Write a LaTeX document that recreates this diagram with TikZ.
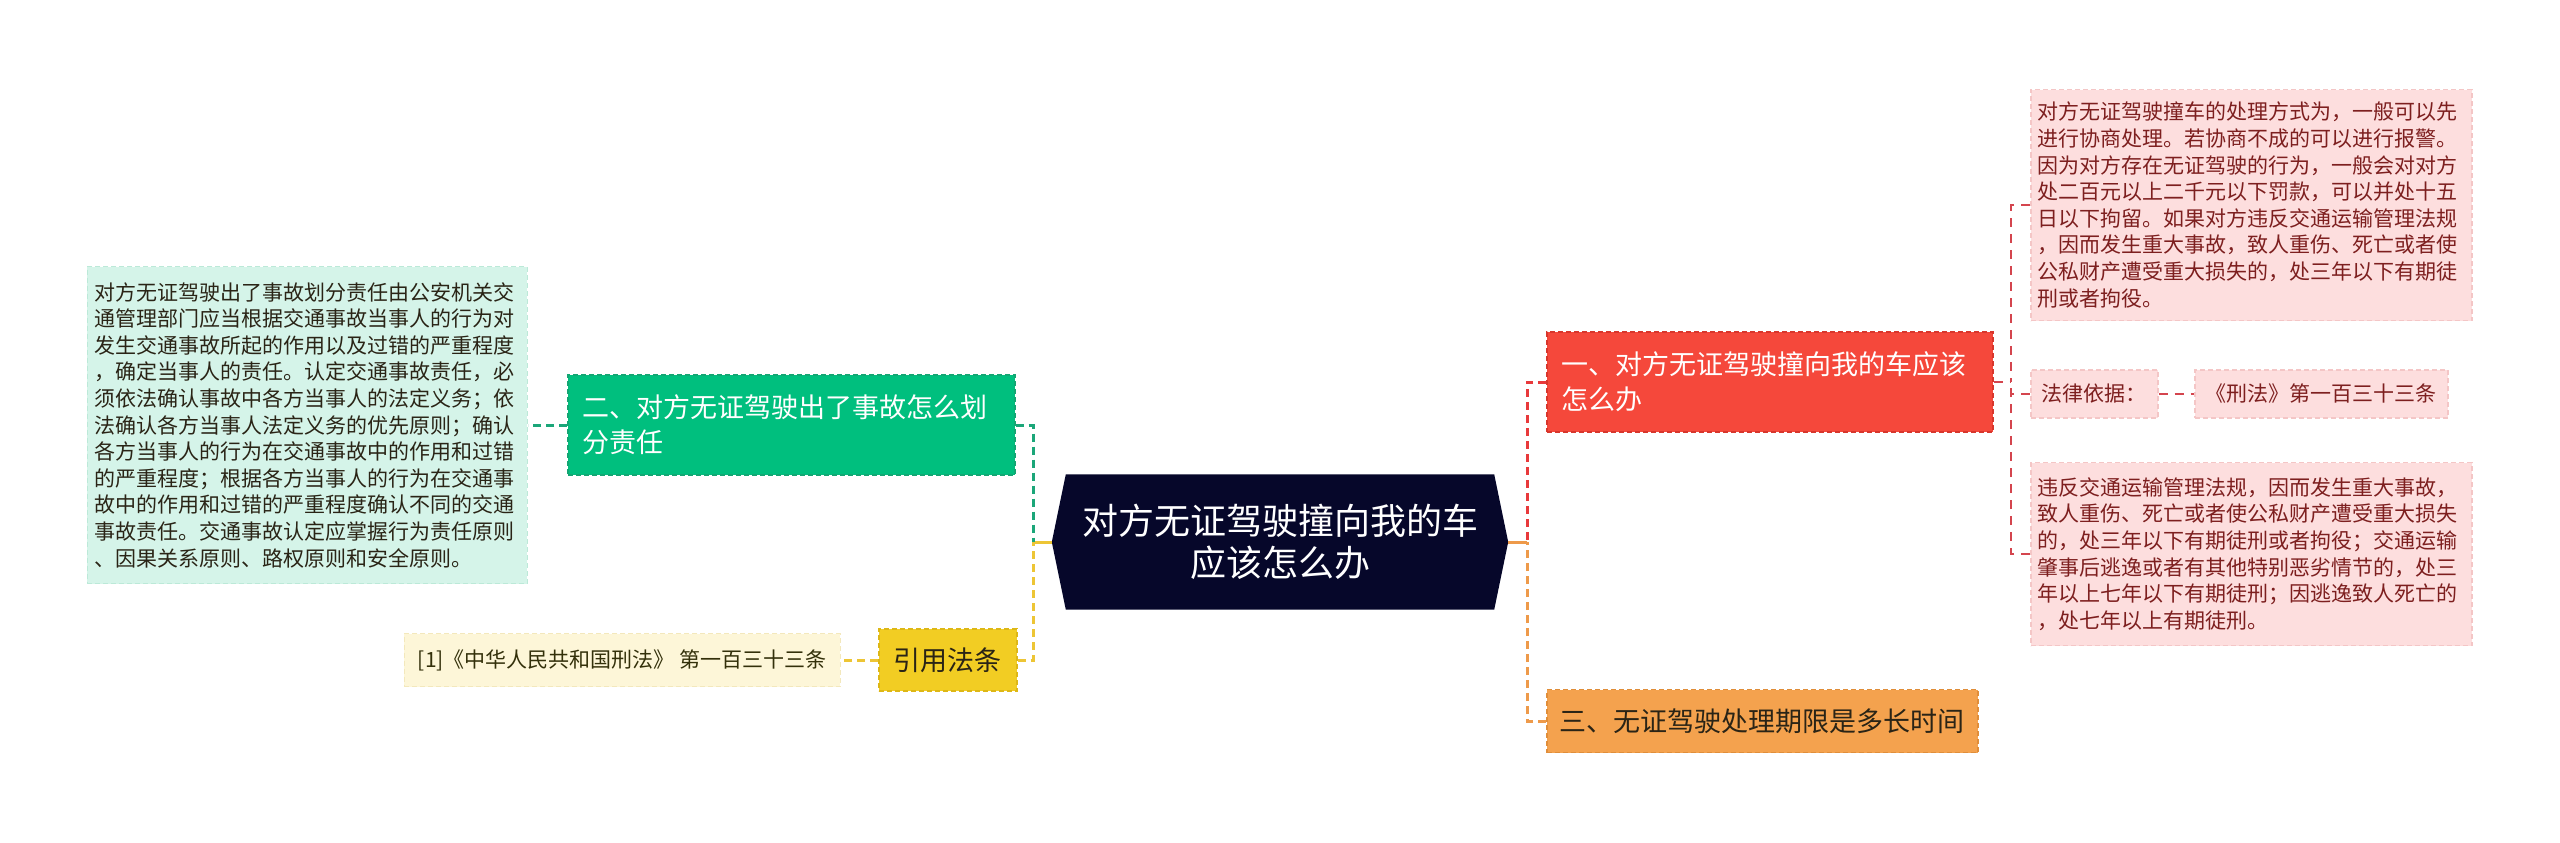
\documentclass[tikz,border=0pt]{standalone}
\usepackage{fontspec}
\usepackage{tikz}
\usetikzlibrary{calc}
\usetikzlibrary{backgrounds}
\newfontfamily\cjk{Noto Sans CJK SC}
\definecolor{rootbg}{HTML}{06072A}
\definecolor{secgreen}{HTML}{00BF7E}
\definecolor{secgreenline}{HTML}{14A673}
\definecolor{notegreen}{HTML}{D5F4E9}
\definecolor{notegreenline}{HTML}{BCE9D8}
\definecolor{secyellow}{HTML}{F2CD23}
\definecolor{secyellowline}{HTML}{DDB716}
\definecolor{noteyellow}{HTML}{FDF6D8}
\definecolor{noteyellowline}{HTML}{F3E8BC}
\definecolor{secred}{HTML}{F5483B}
\definecolor{secredline}{HTML}{D8362C}
\definecolor{secorange}{HTML}{F4A24E}
\definecolor{secorangeline}{HTML}{E08E3A}
\definecolor{notepink}{HTML}{FDDEDE}
\definecolor{notepinkline}{HTML}{F4C6C6}
\definecolor{pinktext}{HTML}{7D1F1F}
\definecolor{darktext}{HTML}{2A2416}
\definecolor{linegreen}{HTML}{1BA679}
\definecolor{lineyellow}{HTML}{EDC535}
\definecolor{linered}{HTML}{E8393B}
\definecolor{lineorange}{HTML}{EE9A4A}
\definecolor{linepink}{HTML}{D4454E}
\tikzset{
  boxline/.style={line width=1.5pt, dash pattern=on 5pt off 3pt},
  rootnode/.style={text=white, font=\cjk\fontsize{36}{42}\selectfont, align=center,
    minimum width=456pt, minimum height=135pt, inner sep=0pt},
  secbox/.style={boxline, font=\cjk\fontsize{27}{35}\selectfont, text width=417pt,
    align=left, inner xsep=15pt, inner ysep=0pt, minimum height=100pt},
  onebox/.style={boxline, font=\cjk\fontsize{27}{33}\selectfont, align=center,
    inner sep=0pt, minimum height=63pt},
  notebox/.style={boxline, font=\cjk\fontsize{21}{26.6}\selectfont, text width=427pt,
    align=left, inner xsep=7pt, inner ysep=0pt},
  smallbox/.style={boxline, font=\cjk\fontsize{21}{26}\selectfont, align=center,
    inner sep=0pt, minimum height=48pt},
  greenline/.style={draw=linegreen, line width=3pt, dash pattern=on 8pt off 5pt},
  yellowline/.style={draw=lineyellow, line width=3pt, dash pattern=on 8pt off 5pt},
  redline/.style={draw=linered, line width=3pt, dash pattern=on 8pt off 5pt},
  orangeline/.style={draw=lineorange, line width=3pt, dash pattern=on 8pt off 5pt},
  pinkline/.style={draw=linepink, line width=2pt, dash pattern=on 9pt off 7pt}
}
\begin{document}
\begin{tikzpicture}[x=1pt,y=-1pt]
  \useasboundingbox (0,0) rectangle (2560,843);
  \node[rootnode] (root) at (1280,542) {对方无证驾驶撞向我的车\\应该怎么办};
  \begin{pgfonlayer}{background}
    \fill[white] (0,0) rectangle (2560,843);
    \fill[rootbg] (root.west) -- ([xshift=14pt]root.north west) -- ([xshift=-14pt]root.north east)
      -- (root.east) -- ([xshift=-14pt]root.south east) -- ([xshift=14pt]root.south west) -- cycle;
  \end{pgfonlayer}
  \node[secbox, fill=secgreen, draw=secgreenline, text=white, anchor=west] (sec2) at (567,425) {二、对方无证驾驶出了事故怎么划\\分责任};
  \node[notebox, fill=notegreen, draw=notegreenline, text=darktext, minimum height=317pt, text width=426pt, anchor=east] (sec2note) at (528,425) {对方无证驾驶出了事故划分责任由公安机关交\\通管理部门应当根据交通事故当事人的行为对\\发生交通事故所起的作用以及过错的严重程度\\，确定当事人的责任。认定交通事故责任，必\\须依法确认事故中各方当事人的法定义务；依\\法确认各方当事人法定义务的优先原则；确认\\各方当事人的行为在交通事故中的作用和过错\\的严重程度；根据各方当事人的行为在交通事\\故中的作用和过错的严重程度确认不同的交通\\事故责任。交通事故认定应掌握行为责任原则\\、因果关系原则、路权原则和安全原则。};
  \node[onebox, fill=secyellow, draw=secyellowline, text=darktext, minimum width=138pt, minimum height=62pt, anchor=west] (cite) at (878,660) {引用法条};
  \node[smallbox, fill=noteyellow, draw=noteyellowline, text=darktext!80!yellow!60!black, minimum width=436pt, minimum height=53pt, anchor=east] (citenote) at (841,660) {[1]《中华人民共和国刑法》 第一百三十三条};
  \node[secbox, fill=secred, draw=secredline, text=white, text width=416pt, anchor=west] (sec1) at (1546,382) {一、对方无证驾驶撞向我的车应该\\怎么办};
  \node[onebox, fill=secorange, draw=secorangeline, text=darktext, minimum width=431pt, anchor=west] (sec3) at (1546,721) {三、无证驾驶处理期限是多长时间};
  \node[notebox, fill=notepink, draw=notepinkline, text=pinktext, minimum height=231pt, anchor=west] (sec1note) at (2030,205) {对方无证驾驶撞车的处理方式为，一般可以先\\进行协商处理。若协商不成的可以进行报警。\\因为对方存在无证驾驶的行为，一般会对对方\\处二百元以上二千元以下罚款，可以并处十五\\日以下拘留。如果对方违反交通运输管理法规\\，因而发生重大事故，致人重伤、死亡或者使\\公私财产遭受重大损失的，处三年以下有期徒\\刑或者拘役。};
  \node[smallbox, fill=notepink, draw=notepinkline, text=pinktext, minimum width=127pt, anchor=west] (basis) at (2030,394) {法律依据：};
  \node[smallbox, fill=notepink, draw=notepinkline, text=pinktext, minimum width=253pt, anchor=west] (statute) at (2194,394) {《刑法》第一百三十三条};
  \node[notebox, fill=notepink, draw=notepinkline, text=pinktext, minimum height=183pt, anchor=west] (sec1rule) at (2030,554) {违反交通运输管理法规，因而发生重大事故，\\致人重伤、死亡或者使公私财产遭受重大损失\\的，处三年以下有期徒刑或者拘役；交通运输\\肇事后逃逸或者有其他特别恶劣情节的，处三\\年以上七年以下有期徒刑；因逃逸致人死亡的\\，处七年以上有期徒刑。};
  \coordinate (lj) at (1033,542);
  \coordinate (rj) at (1527,542);
  \coordinate (sj) at (2011,382);
  \draw[yellowline, solid] (root.west) -- (lj);
  \draw[greenline] (sec2.east) -| (lj);
  \draw[yellowline] (cite.east) -| (lj);
  \draw[greenline] (sec2.west) -- (sec2note.east);
  \draw[yellowline] (cite.west) -- (citenote.east);
  \draw[orangeline, solid] (root.east) -- (rj);
  \draw[redline] (sec1.west) -| (rj);
  \draw[orangeline] (sec3.west) -| (rj);
  \draw[pinkline] (sec1.east) -- (sj);
  \draw[pinkline] (sec1note.west) -| (sj);
  \draw[pinkline] (basis.west) -| (sj);
  \draw[pinkline] (sec1rule.west) -| (sj);
  \draw[pinkline] (basis.east) -- (statute.west);
\end{tikzpicture}
\end{document}
